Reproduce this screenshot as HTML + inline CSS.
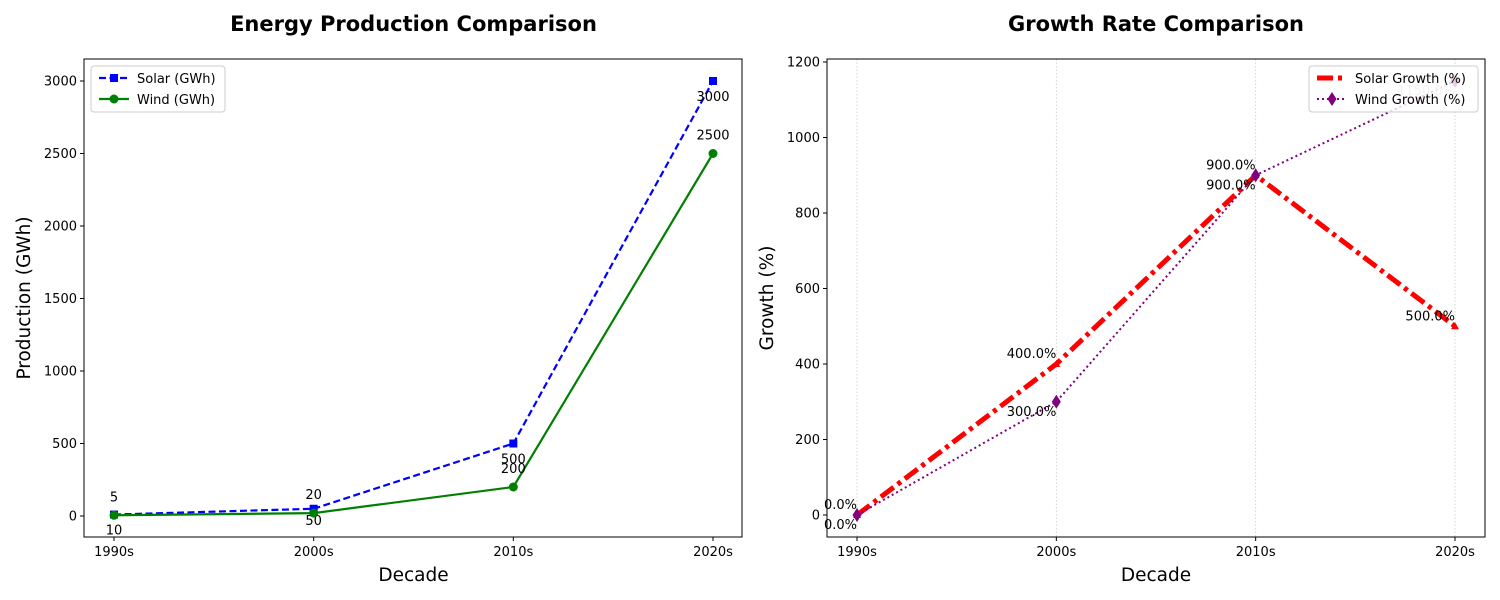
<!DOCTYPE html>
<html><head><meta charset="utf-8"><style>body{margin:0;background:#fff}svg{display:block;font-family:"DejaVu Sans","Liberation Sans",sans-serif}</style></head>
<body>
<svg id="c" width="1500" height="600" viewBox="0 0 1500 600"></svg>
<script>
const decades=["1990s","2000s","2010s","2020s"];
const solarGWh=[10,50,500,3000];
const windGWh=[5,20,200,2500];
const solarGrowth=[0,400,900,500];
const windGrowth=[0,300,900,1150];
const leftTicks=[0,500,1000,1500,2000,2500,3000];
const rightTicks=[0,200,400,600,800,1000,1200];
const NS="http://www.w3.org/2000/svg";
const svg=document.getElementById('c');
function el(tag,attrs,parent,text){const e=document.createElementNS(NS,tag);for(const k in attrs)e.setAttribute(k,attrs[k]);if(text!==undefined)e.textContent=text;(parent||svg).appendChild(e);return e;}
function panel(o){
  const g=el('g',{});
  
  
  const xs=i=>o.x0+i*(o.x1-o.x0)/3;
  const ys=v=>o.yz-v*o.k;
  if(o.grid){decades.forEach((d,i)=>{const l=el('line',{x1:xs(i),x2:xs(i),y1:o.top,y2:o.bot,stroke:'#ccc','stroke-width':0.8,'stroke-dasharray':'1.5,2'},g);});}
  o.series.forEach(s=>{
    const pts=s.vals.map((v,i)=>xs(i)+','+ys(v)).join(' ');
    const pl=el('polyline',{points:pts,fill:'none',stroke:s.color,'stroke-width':s.w,'stroke-dasharray':s.dash||'none'},g);
    
    s.vals.forEach((v,i)=>{const x=xs(i),y=ys(v);let m;
      if(s.marker==='s')m=el('rect',{x:x-4,y:y-4,width:8,height:8,fill:s.color},g);
      else if(s.marker==='o')m=el('circle',{cx:x,cy:y,r:4.5,fill:s.color},g);
      else if(s.marker==='d')m=el('polygon',{points:`${x},${y-7} ${x+4.5},${y} ${x},${y+7} ${x-4.5},${y}`,fill:s.color},g);
      else m=el('polygon',{points:`${x},${y-4} ${x+4},${y+3} ${x-4},${y+3}`,fill:s.color},g);
      
      const t=el('text',{x:x+(s.ldx||0),y:y+s.ldy[i],'text-anchor':s.anchor||'middle','font-size':13,fill:s.lcolor?s.lcolor[i]:'#000'},g,s.labels[i]);
      
    });
  });
  const fr=el('rect',{x:o.x0-30,y:o.top,width:658,height:o.bot-o.top,fill:'none',stroke:'#000','stroke-width':1},g);
  
  o.ticks.forEach(v=>{const y=ys(v);el('line',{x1:o.x0-34,x2:o.x0-30,y1:y,y2:y,stroke:'#000'},g);
    const t=el('text',{x:o.x0-37,y:y+4.5,'text-anchor':'end','font-size':13},g,String(v));});
  decades.forEach((d,i)=>{const x=xs(i);el('line',{x1:x,x2:x,y1:o.bot,y2:o.bot+4,stroke:'#000'},g);
    const t=el('text',{x:x,y:o.bot+19,'text-anchor':'middle','font-size':13},g,d);});
  let t=el('text',{x:(o.x0+o.x1)/2,y:581,'text-anchor':'middle','font-size':18.5},g,'Decade');
  const cy=(o.top+o.bot)/2;
  t=el('text',{x:o.ylx,y:cy,'text-anchor':'middle','font-size':18.5,transform:`rotate(-90 ${o.ylx} ${cy})`},g,o.ylabel);
  t=el('text',{x:(o.x0+o.x1)/2,y:31,'text-anchor':'middle','font-size':21,'font-weight':'bold'},g,o.title);
  const lg=el('g',{},g);
  el('rect',{x:o.lx,y:66,width:o.lw,height:46,rx:3,fill:'rgba(255,255,255,0.8)',stroke:'#ccc'},lg);
  o.series.forEach((s,j)=>{const y=78+j*21;
    el('line',{x1:o.lx+8,x2:o.lx+38,y1:y,y2:y,stroke:s.color,'stroke-width':s.w,'stroke-dasharray':s.dash||'none'},lg);
    const cx=o.lx+23;
    if(s.marker==='s')el('rect',{x:cx-4,y:y-4,width:8,height:8,fill:s.color},lg);
    else if(s.marker==='o')el('circle',{cx:cx,cy:y,r:4.5,fill:s.color},lg);
    else if(s.marker==='d')el('polygon',{points:`${cx},${y-7} ${cx+4.5},${y} ${cx},${y+7} ${cx-4.5},${y}`,fill:s.color},lg);
    const lt=el('text',{x:o.lx+46,y:y+5,'font-size':13},lg,s.legend);
  });
}
panel({name:'energy-production-panel',x0:114,x1:713,top:59,bot:537,yz:516,k:0.145,ticks:leftTicks,ylabel:'Production (GWh)',ylx:30,title:'Energy Production Comparison',lx:91,lw:134,
 series:[
  {name:'solar',vals:solarGWh,color:'#0000ff',w:2.2,dash:'7,3.5',marker:'s',legend:'Solar (GWh)',labels:['10','50','500','3000'],ldy:[20,16,20,20]},
  {name:'wind',vals:windGWh,color:'#008000',w:2.2,marker:'o',legend:'Wind (GWh)',labels:['5','20','200','2500'],ldy:[-14,-14,-14,-14]}
 ]});
panel({name:'growth-rate-panel',x0:857,x1:1455,top:59,bot:537,yz:515,k:0.3775,ticks:rightTicks,ylabel:'Growth (%)',ylx:773,title:'Growth Rate Comparison',lx:1309,lw:169,grid:true,
 series:[
  {name:'solar-growth',vals:solarGrowth,color:'#ff0000',w:5,dash:'16,5,4,5',marker:'t',legend:'Solar Growth (%)',labels:['0.0%','400.0%','900.0%','500.0%'],ldx:0,anchor:'end',ldy:[-6,-6,-6,-6]},
  {name:'wind-growth',vals:windGrowth,color:'#800080',w:2,dash:'2,3',marker:'d',legend:'Wind Growth (%)',labels:['0.0%','300.0%','900.0%','1150.0%'],ldx:0,anchor:'end',ldy:[14,14,14,14],lcolor:['#000','#000','#000','#bbb']}
 ]});
</script>
</body></html>
